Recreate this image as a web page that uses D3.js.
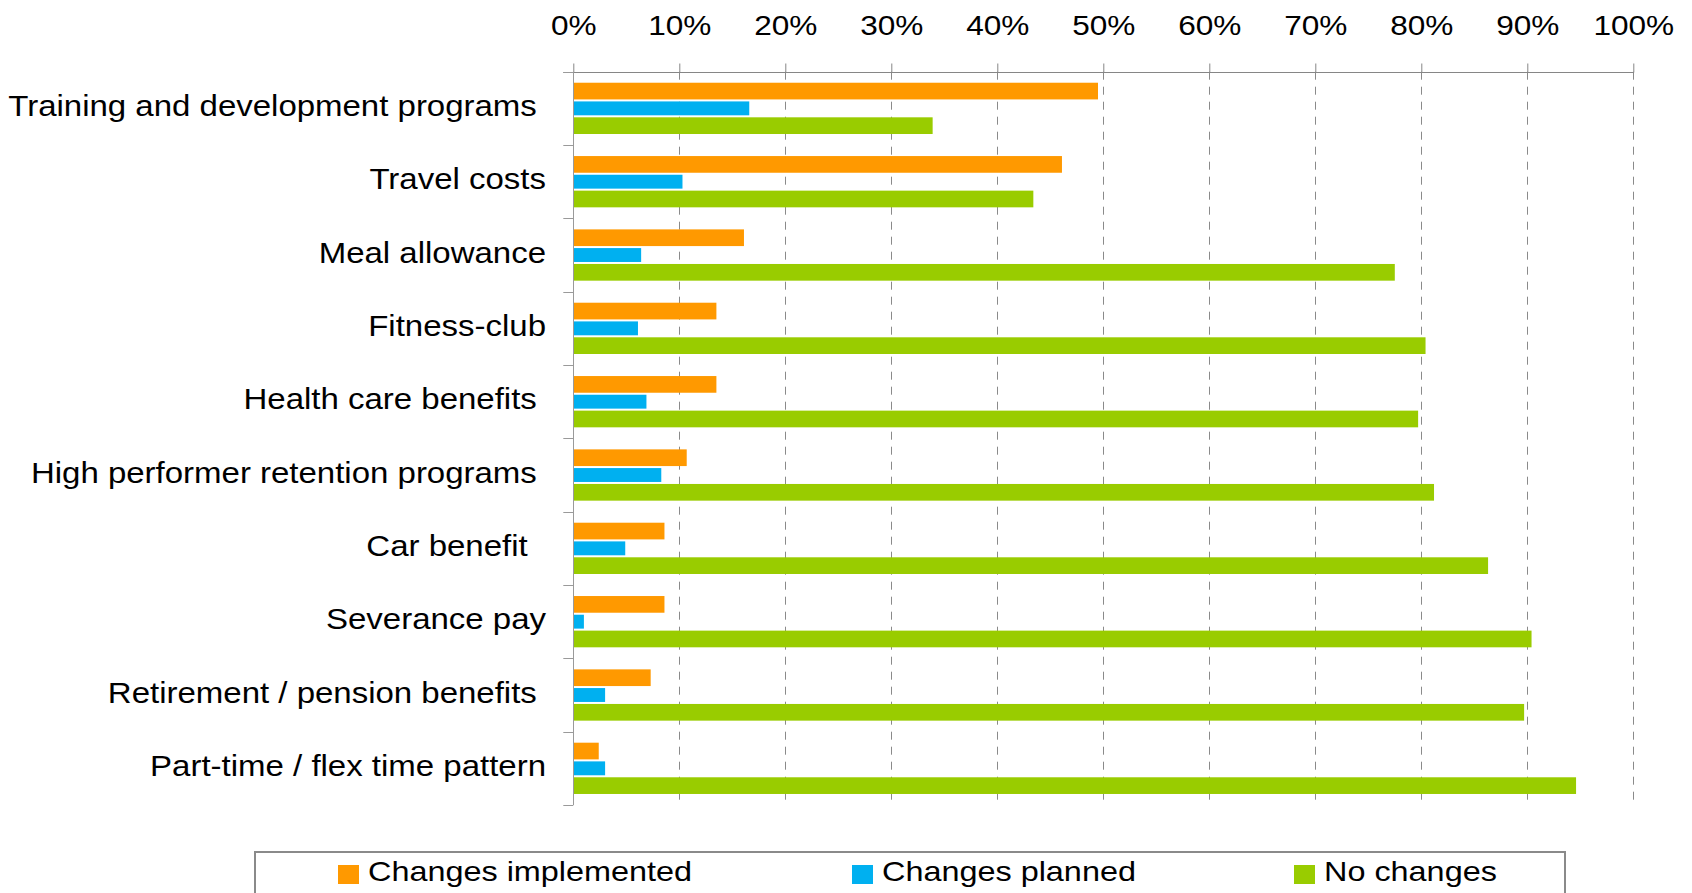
<!DOCTYPE html>
<html>
<head>
<meta charset="utf-8">
<script src="https://cdn.jsdelivr.net/npm/d3@7"></script>
<style>
  html, body { margin: 0; padding: 0; background: #ffffff; }
  svg { display: block; }
  text { font-family: "Liberation Sans", Arial, Helvetica, sans-serif; fill: #000; white-space: pre; }
</style>
</head>
<body>
<svg id="chart" width="1692" height="893"></svg>
<script>
// Benefit areas surveyed (trailing spaces kept as typed in the source sheet)
const categories = [
  "Training and development programs ",
  "Travel costs",
  "Meal allowance",
  "Fitness-club",
  "Health care benefits ",
  "High performer retention programs ",
  "Car benefit  ",
  "Severance pay",
  "Retirement / pension benefits ",
  "Part-time / flex time pattern"
];

const seriesNames = ["Changes implemented", "Changes planned", "No changes"];

// Share of respondents per category, in percent
const implemented = [49.5, 46.1, 16.1, 13.5, 13.5, 10.7, 8.6, 8.6, 7.3, 2.4];
const planned     = [16.6, 10.3,  6.4,  6.1,  6.9,  8.3, 4.9, 1.0, 3.0, 3.0];
const noChanges   = [33.9, 43.4, 77.5, 80.4, 79.7, 81.2, 86.3, 90.4, 89.7, 94.6];

const tickValues = [0, 10, 20, 30, 40, 50, 60, 70, 80, 90, 100];
const tickLabels = ["0%", "10%", "20%", "30%", "40%", "50%", "60%", "70%", "80%", "90%", "100%"];

const colors = ["#FF9900", "#00B0F0", "#99CC00"];
const insets = [0.3, 1.7, 0.3];   // the middle bar of each group is drawn a little slimmer

const seriesValues = [implemented, planned, noChanges];
const rows = categories.map((c, i) => ({
  category: c,
  values: seriesNames.map((s, k) => ({ series: s, k, value: seriesValues[k][i] }))
}));

const svg = d3.select("#chart");
const plot = { left: 573.3, right: 1633.3, top: 71.7, bottom: 805 };

const x = d3.scaleLinear().domain([0, 100]).range([plot.left, plot.right]);
const y = d3.scaleBand().domain(categories).range([plot.top, plot.bottom]).padding(0);
const ySeries = d3.scaleBand().domain(seriesNames).range([0, y.bandwidth()])
  .paddingInner(0).paddingOuter(0.62);

// dashed vertical gridlines
svg.append("g")
  .selectAll("line")
  .data(tickValues.filter(v => v > 0))
  .join("line")
  .attr("x1", d => Math.round(x(d)) + 0.5)
  .attr("x2", d => Math.round(x(d)) + 0.5)
  .attr("y1", plot.top)
  .attr("y2", plot.bottom)
  .attr("stroke", "#8a8a8a")
  .attr("stroke-width", 1)
  .attr("stroke-dasharray", "8,7");

// bars
const groups = svg.append("g")
  .selectAll("g")
  .data(rows)
  .join("g")
  .attr("transform", d => `translate(0,${y(d.category)})`);

groups.selectAll("rect")
  .data(d => d.values)
  .join("rect")
  .attr("x", x(0))
  .attr("y", d => ySeries(d.series) + insets[d.k])
  .attr("width", d => x(d.value) - x(0))
  .attr("height", d => ySeries.bandwidth() - 2 * insets[d.k])
  .attr("fill", d => colors[d.k]);

// top value axis
const xAxis = d3.axisTop(x)
  .tickValues(tickValues)
  .tickFormat((d, i) => tickLabels[i])
  .tickSize(9)
  .tickPadding(28);

const gx = svg.append("g")
  .attr("transform", `translate(0,${Math.round(plot.top) + 0.5})`)
  .call(xAxis);
gx.select(".domain").attr("stroke", "#868686").attr("d", `M${plot.left - 10},0H${x(100)}`);
gx.selectAll(".tick line").attr("stroke", "#868686");
gx.selectAll(".tick text")
  .attr("font-size", 27)
  .attr("y", 0)
  .attr("dy", 0)
  .attr("transform", "translate(0,-37.5) scale(1.17,1)")
  .attr("text-anchor", "middle");

// left category axis: line with ticks between groups
const gy = svg.append("g");
gy.append("line")
  .attr("x1", Math.round(plot.left) + 0.5)
  .attr("x2", Math.round(plot.left) + 0.5)
  .attr("y1", plot.top)
  .attr("y2", plot.bottom)
  .attr("stroke", "#9a9a9a")
  .attr("stroke-width", 1);
const boundaries = categories.map(c => y(c)).concat([plot.bottom]);
gy.selectAll("line.tk")
  .data(boundaries)
  .join("line")
  .attr("class", "tk")
  .attr("x1", plot.left - 10)
  .attr("x2", plot.left)
  .attr("y1", d => Math.round(d) + 0.5)
  .attr("y2", d => Math.round(d) + 0.5)
  .attr("stroke", "#9a9a9a")
  .attr("stroke-width", 1);

gy.selectAll("text")
  .data(categories)
  .join("text")
  .attr("transform", d => `translate(546,${y(d) + y.bandwidth() / 2 + 7.5}) scale(1.1,1)`)
  .attr("text-anchor", "end")
  .attr("font-size", 30)
  .text(d => d);

// legend
const legend = svg.append("g");
legend.append("rect")
  .attr("x", 255)
  .attr("y", 852)
  .attr("width", 1310)
  .attr("height", 80)
  .attr("fill", "none")
  .attr("stroke", "#8a8a8a")
  .attr("stroke-width", 2);

const legendX = [338, 852, 1294];
const items = legend.selectAll("g.item")
  .data(seriesNames)
  .join("g")
  .attr("class", "item")
  .attr("transform", (d, i) => `translate(${legendX[i]},0)`);
items.append("rect")
  .attr("x", 0)
  .attr("y", 865)
  .attr("width", 21)
  .attr("height", 19)
  .attr("fill", (d, i) => colors[i]);
items.append("text")
  .attr("transform", "translate(30,880.7) scale(1.2,1)")
  .attr("font-size", 27)
  .text(d => d);
</script>
</body>
</html>
